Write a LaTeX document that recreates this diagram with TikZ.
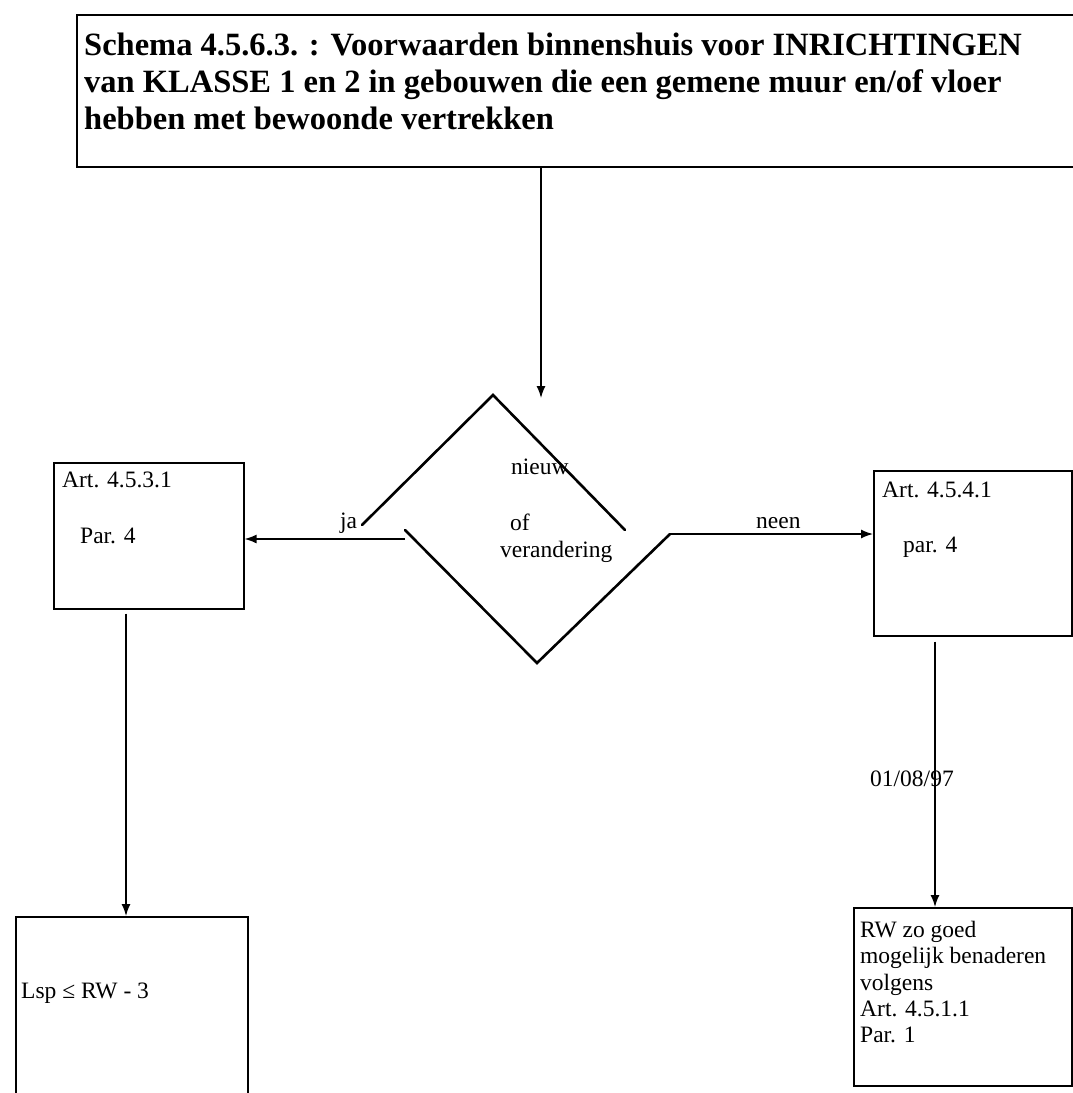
\documentclass[tikz,border=0pt]{standalone}
\usepackage{fontspec}
\setmainfont{Liberation Serif}
\usetikzlibrary{arrows.meta}
\begin{document}
\begin{tikzpicture}[x=1pt,y=-1pt,
  box/.style={draw, line width=1.6pt, inner sep=0pt, anchor=north west},
  arr/.style={line width=1.4pt, -{Latex[length=12pt,width=9pt]}},
  dia/.style={line width=2.6pt, line cap=round},
  txt/.style={inner sep=0pt, anchor=base west, font=\fontsize{23.5}{27}\selectfont},
  ttl/.style={inner sep=0pt, anchor=base west, font=\bfseries\fontsize{32.5}{38}\selectfont}]
\useasboundingbox (0,0) rectangle (1072,1093);
\fill[white] (0,0) rectangle (1072,1093);
% boxes
\node[box, minimum width=1010pt, minimum height=152pt] (t) at (76,14) {};
\node[box, minimum width=190pt, minimum height=146pt] (a) at (53,462) {};
\node[box, minimum width=198pt, minimum height=165pt] (b) at (873,470) {};
\node[box, minimum width=232pt, minimum height=200pt] (c) at (15,916) {};
\node[box, minimum width=218pt, minimum height=178pt] (d) at (853,907) {};
% title
\node[ttl] (t1) at (84,55) {Schema 4.5.6.3. : Voorwaarden binnenshuis voor INRICHTINGEN};
\node[ttl] (t2) at (84,92) {van KLASSE 1 en 2 in gebouwen die een gemene muur en/of vloer};
\node[ttl] (t3) at (84,129) {hebben met bewoonde vertrekken};
% diamond
\coordinate (ul) at (362,525); \coordinate (ut) at (493,395); \coordinate (ur) at (625,530);
\coordinate (dl) at (405,530); \coordinate (db) at (537,663); \coordinate (dr) at (670,534);
\draw[dia] (ul) -- (ut) -- (ur);
\draw[dia] (dl) -- (db) -- (dr);
\node[txt] (n1) at (511,474) {nieuw};
\node[txt] (n2) at (510,530) {of};
\node[txt] (n3) at (500,557) {verandering};
% box texts
\node[txt] (a1) at (62,487) {Art. 4.5.3.1};
\node[txt] (a2) at (80,543) {Par. 4};
\node[txt] (b1) at (882,497) {Art. 4.5.4.1};
\node[txt] (b2) at (903,552) {par. 4};
\node[txt] (c1) at (21,998) {Lsp ≤ RW - 3};
\node[txt] (d1) at (860,937) {RW zo goed};
\node[txt] (d2) at (860,963) {mogelijk benaderen};
\node[txt] (d3) at (860,990) {volgens};
\node[txt] (d4) at (860,1016) {Art. 4.5.1.1};
\node[txt] (d5) at (860,1042) {Par. 1};
% connectors
\coordinate (dtop) at (541,398);
\draw[arr] (t.south -| dtop) -- (dtop);
\coordinate (jl) at (405,539);
\draw[arr] (jl) -- (jl -| a.east);
\draw[arr] (dr) -- (b.west |- dr);
\coordinate (ax) at (126,0);
\draw[arr] ([yshift=-4pt]a.south -| ax) -- (c.north -| ax);
\coordinate (bx) at (935,0);
\draw[arr] ([yshift=-5pt]b.south -| bx) -- (d.north -| bx);
% labels
\node[txt] (lja) at (340,528) {ja};
\node[txt] (lneen) at (756,528) {neen};
\node[txt] (ldate) at (870,786) {01/08/97};
\end{tikzpicture}
\end{document}
